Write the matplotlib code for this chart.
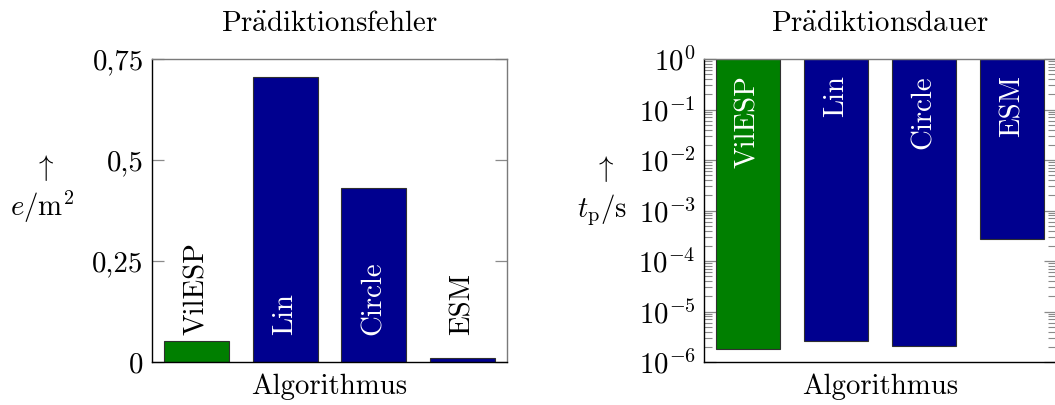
import matplotlib
matplotlib.use("Agg")
import matplotlib.pyplot as plt
from matplotlib.ticker import FixedLocator, FixedFormatter, LogLocator, NullFormatter

# ---- data ----
algorithms = ["VilESP", "Lin", "Circle", "ESM"]
pred_error = [0.052, 0.706, 0.430, 0.009]          # e / m^2
pred_time = [1.82e-6, 2.63e-6, 2.11e-6, 2.72e-4]   # t_p / s
err_ticks = [0, 0.25, 0.5, 0.75]
err_ticklabels = ["0", "0,25", "0,5", "0,75"]
time_ticks = [1e-6, 1e-5, 1e-4, 1e-3, 1e-2, 1e-1, 1e0]
title_left = r"Pr$\ddot{\mathrm{a}}$diktionsfehler"
title_right = r"Pr$\ddot{\mathrm{a}}$diktionsdauer"

# ---- style ----
GREEN = "#007f00"
BLUE = "#00008f"
bar_colors = [GREEN, BLUE, BLUE, BLUE]
err_label_colors = ["black", "white", "white", "black"]
FS = 20.8

plt.rcParams["font.family"] = ["cmr10", "DejaVu Serif"]
plt.rcParams["mathtext.fontset"] = "cm"
plt.rcParams["axes.formatter.use_mathtext"] = True

W, H = 1055, 405
fig = plt.figure(figsize=(W / 100, H / 100), dpi=100)

def px_axes(x0, y0, x1, y1):
    return fig.add_axes([x0 / W, 1 - y1 / H, (x1 - x0) / W, (y1 - y0) / H])

ax1 = px_axes(152, 59, 507, 362)
ax2 = px_axes(704, 59, 1056, 362)

x = list(range(len(algorithms)))

def style_axes(ax):
    for s in ("left", "bottom"):
        ax.spines[s].set_color("black")
    for s in ("top", "right"):
        ax.spines[s].set_color("#7a7a7a")
    for s in ax.spines.values():
        s.set_linewidth(1.0)
    ax.set_xlim(-0.5, 3.5)
    ax.set_xticks([])
    ax.tick_params(axis="y", which="major", direction="in", left=True, right=True,
                   length=8.5, width=0.9, color="#8a8a8a", labelsize=FS, pad=6,
                   labelcolor="black")
    ax.tick_params(axis="y", which="minor", direction="in", left=True, right=True,
                   length=5.5, width=0.8, color="#8a8a8a")

# ---- left: prediction error ----
ax1.bar(x, pred_error, width=0.73, color=bar_colors, edgecolor="#303030",
        linewidth=0.8, zorder=2)
ax1.set_ylim(0, 0.75)
ax1.yaxis.set_major_locator(FixedLocator(err_ticks))
ax1.yaxis.set_major_formatter(FixedFormatter(err_ticklabels))
style_axes(ax1)
for xi, name, c in zip(x, algorithms, err_label_colors):
    ax1.text(xi, 0.066, name, rotation=90, ha="center", va="bottom",
             color=c, fontsize=FS, zorder=3)

# ---- right: prediction time (bars hang from top) ----
ax2.set_yscale("log")
ax2.bar(x, [1.0 - v for v in pred_time], bottom=pred_time, width=0.73,
        color=bar_colors, edgecolor="#303030", linewidth=0.8, zorder=2)
ax2.set_ylim(1e-6, 1e0)
ax2.yaxis.set_major_locator(FixedLocator(time_ticks))
ax2.yaxis.set_minor_locator(LogLocator(base=10, subs=range(2, 10), numticks=20))
ax2.yaxis.set_minor_formatter(NullFormatter())
style_axes(ax2)
for xi, name in zip(x, algorithms):
    ax2.annotate(name, xy=(xi, 1.0), xytext=(0, -11.5), textcoords="offset points",
                 rotation=90, ha="center", va="top", color="white",
                 fontsize=FS, zorder=3)

# ---- titles / labels ----
def ftext(px, py, s, **kw):
    fig.text(px / W, 1 - py / H, s, fontsize=FS, ha="center", va="center", **kw)

ftext(329.5, 24, title_left)
ftext(880, 24, title_right)
ftext(329.5, 387, "Algorithmus")
ftext(880, 387, "Algorithmus")
ftext(43, 168, r"$\uparrow$")
ftext(42, 207, r"$e/\mathrm{m}^2$")
ftext(603, 169, r"$\uparrow$")
ftext(602, 210, r"$t_\mathrm{p}/\mathrm{s}$")

fig.savefig("out.png", dpi=100)
